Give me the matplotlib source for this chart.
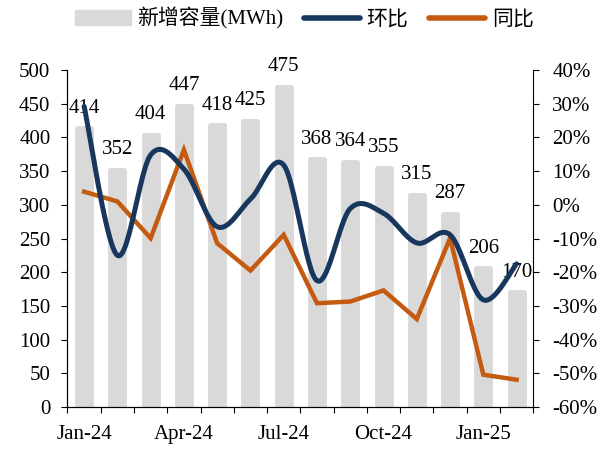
import numpy as np
import matplotlib
matplotlib.use("Agg")
import matplotlib.pyplot as plt
from matplotlib.patches import Patch
from matplotlib.lines import Line2D

plt.rcParams['font.family'] = ['Liberation Serif', 'Noto Sans CJK SC']
plt.rcParams['font.size'] = 15

months = ["Jan-24", "Feb-24", "Mar-24", "Apr-24", "May-24", "Jun-24", "Jul-24",
          "Aug-24", "Sep-24", "Oct-24", "Nov-24", "Dec-24", "Jan-25", "Feb-25"]
capacity = [414, 352, 404, 447, 418, 425, 475, 368, 364, 355, 315, 287, 206, 170]
mom = [29.2, -15.0, 14.8, 10.6, -6.5, 1.7, 11.8, -22.5, -1.1, -2.5, -11.3, -8.9, -28.2, -17.5]
yoy = [3.9, 1.0, -9.9, 16.3, -11.4, -19.5, -8.9, -29.2, -28.7, -25.4, -33.9, -9.9, -50.4, -51.9]
left_ticks = [0, 50, 100, 150, 200, 250, 300, 350, 400, 450, 500]
right_ticks = [-60, -50, -40, -30, -20, -10, 0, 10, 20, 30, 40]
shown_labels = ["Jan-24", "Apr-24", "Jul-24", "Oct-24", "Jan-25"]

BAR = "#d9d9d9"
NAVY = "#17375e"
ORANGE = "#c55a11"


def smooth(xs, ys, n=30):
    xs = np.asarray(xs, float)
    ys = np.asarray(ys, float)
    P = np.column_stack([xs, ys])
    out = []
    for i in range(len(P) - 1):
        p0 = P[i - 1] if i > 0 else P[i]
        p1 = P[i]
        p2 = P[i + 1]
        p3 = P[i + 2] if i + 2 < len(P) else P[i + 1]
        c1 = p1 + (p2 - p0) / 6.0
        c2 = p2 - (p3 - p1) / 6.0
        t = np.linspace(0, 1, n)[:, None]
        seg = ((1 - t) ** 3) * p1 + 3 * ((1 - t) ** 2) * t * c1 + 3 * (1 - t) * t ** 2 * c2 + t ** 3 * p2
        out.append(seg if i == 0 else seg[1:])
    seg = np.vstack(out)
    return seg[:, 0], seg[:, 1]


fig = plt.figure(figsize=(6.08, 4.49), dpi=100)
ax = fig.add_axes([0.111, 0.0935, 0.766, 0.7505])
x = np.arange(len(months))
bars = ax.bar(x, capacity, width=0.42, color=BAR, edgecolor=BAR, linewidth=3.5,
              joinstyle='round', zorder=1)
ax.bar_label(bars, labels=[str(v) for v in capacity], padding=7.5, fontsize=15, zorder=5)
ax.set_xlim(-0.5, len(months) - 0.5)
ax.set_ylim(0, 500)
ax.set_yticks(left_ticks)
ax.set_xticks(np.arange(-0.5, len(months), 1.0))
ax.set_xticklabels([])
ax.set_xticks([x[months.index(m)] for m in shown_labels], minor=True)
ax.set_xticklabels(shown_labels, minor=True)
ax.tick_params(axis='x', which='minor', length=0, pad=13)
ax.tick_params(axis='x', which='major', length=4.5, direction='out')
ax.tick_params(axis='y', length=4.3, direction='out', pad=8)
ax.spines['top'].set_visible(False)
ax.spines['right'].set_visible(False)

ax2 = ax.twinx()
ax2.set_ylim(-60, 40)
ax2.set_yticks(right_ticks)
ax2.set_yticklabels([f"{v}%" for v in right_ticks])
ax2.tick_params(axis='y', length=4.3, direction='out', pad=9.5)
ax2.spines['top'].set_visible(False)
sx, sy = smooth(x, mom)
ax2.plot(sx, sy, color=NAVY, lw=3.6, solid_capstyle='round', zorder=3)
ax2.plot(x, yoy, color=ORANGE, lw=3.2, solid_joinstyle='miter', zorder=2)

handles = [Patch(color=BAR), Line2D([], [], color=NAVY, lw=4, solid_capstyle='round'),
           Line2D([], [], color=ORANGE, lw=4, solid_capstyle='round')]
fig.legend(handles, ["新增容量(MWh)", "环比", "同比"], loc='center', bbox_to_anchor=(0.5, 0.958),
           ncol=3, frameon=False, fontsize=15, handlelength=2.7, handletextpad=0.3, columnspacing=1.0)

fig.savefig("out.png", dpi=100)
